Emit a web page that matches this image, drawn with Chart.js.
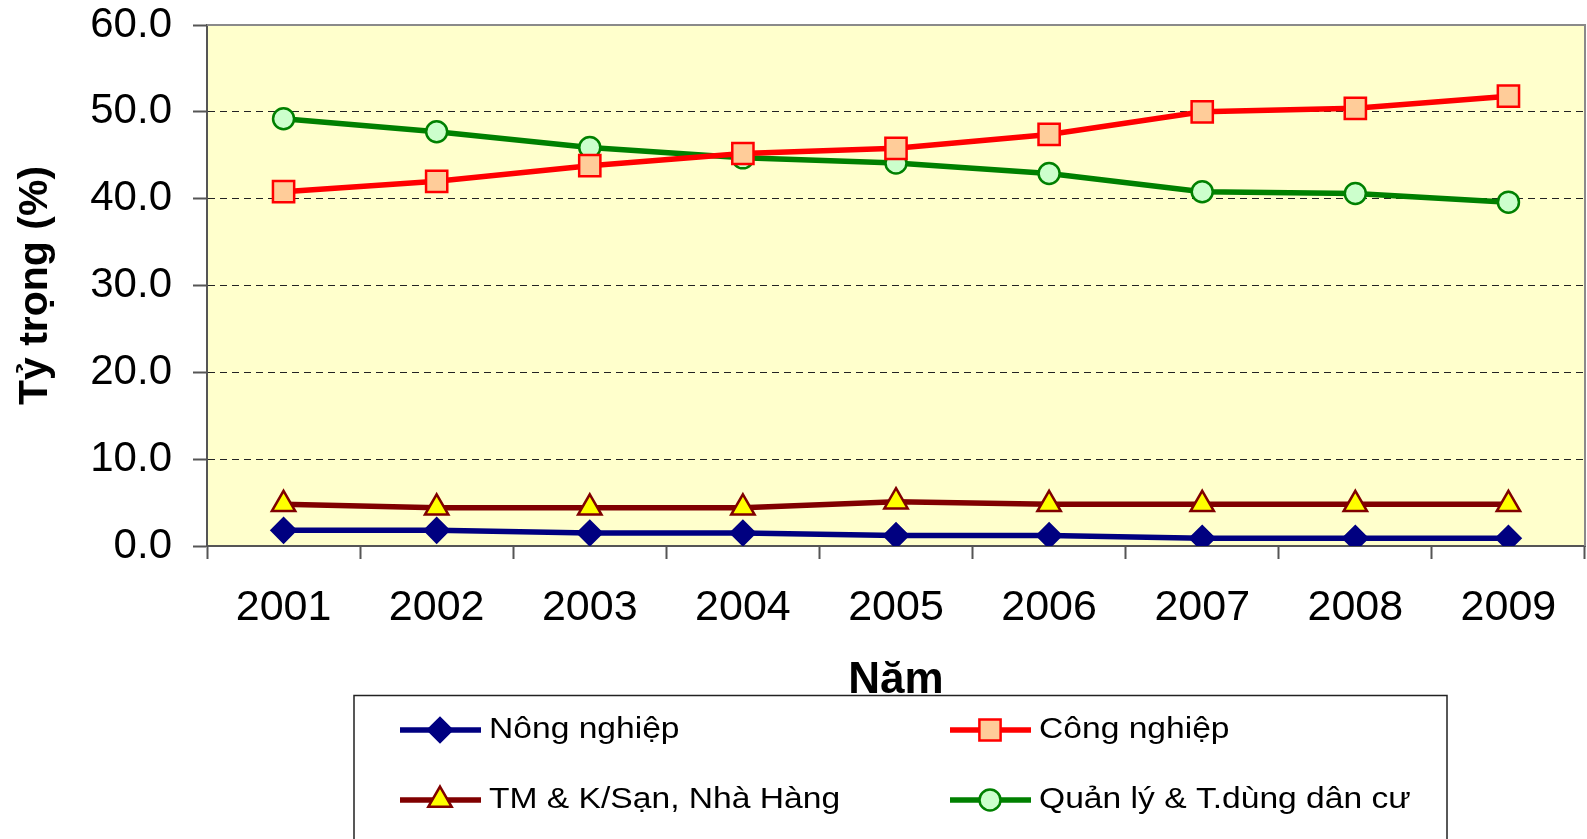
<!DOCTYPE html>
<html>
<head>
<meta charset="utf-8">
<script src="https://cdn.jsdelivr.net/npm/chart.js@4.4.1/dist/chart.umd.min.js"></script>
<style>
  html, body { margin: 0; padding: 0; background: #fff; }
</style>
</head>
<body>
<canvas id="chart" width="1587" height="839"></canvas>
<script>
// Data
const years = ['2001', '2002', '2003', '2004', '2005', '2006', '2007', '2008', '2009'];
const nongNghiep = [1.8, 1.8, 1.5, 1.5, 1.2, 1.2, 0.9, 0.9, 0.9];
const congNghiep = [40.8, 42.0, 43.8, 45.2, 45.8, 47.4, 50.0, 50.4, 51.8];
const thuongMai = [4.8, 4.4, 4.4, 4.4, 5.1, 4.8, 4.8, 4.8, 4.8];
const quanLy = [49.2, 47.7, 45.9, 44.7, 44.1, 42.9, 40.8, 40.6, 39.6];
const seriesNames = ['Nông nghiệp', 'Công nghiệp', 'TM & K/Sạn, Nhà Hàng', 'Quản lý & T.dùng dân cư'];
const yMin = 0, yMax = 60, yStep = 10;
const xTitle = 'Năm';
const yTitle = 'Tỷ trọng (%)';

Chart.defaults.font.family = '"Liberation Sans", Arial, sans-serif';
Chart.defaults.color = '#000';

// plot area background + top/right frame
const plotFrame = {
    id: 'plotFrame',
    beforeDraw(chart) {
        const { ctx, chartArea: a } = chart;
        ctx.save();
        ctx.fillStyle = '#FFFFCC';
        ctx.fillRect(a.left, a.top, a.right - a.left, a.bottom - a.top);
        ctx.restore();
    },
    beforeDatasetsDraw(chart) {
        const { ctx, chartArea: a } = chart;
        ctx.save();
        ctx.strokeStyle = '#8a8a8a';
        ctx.lineWidth = 2;
        ctx.beginPath();
        ctx.moveTo(a.left, a.top);
        ctx.lineTo(a.right, a.top);
        ctx.lineTo(a.right, a.bottom);
        ctx.stroke();
        ctx.restore();
    }
};

// legend box drawn under the chart, line + marker like the original
const legendBox = {
    id: 'legendBox',
    afterDraw(chart) {
        const ctx = chart.ctx;
        const cols = [400, 950];
        const rows = [730, 800];
        ctx.save();
        ctx.strokeStyle = '#222';
        ctx.lineWidth = 1.5;
        ctx.strokeRect(354, 695.5, 1093, 200);
        chart.data.datasets.forEach((ds, i) => {
            const x = cols[i % 2];
            const y = rows[Math.floor(i / 2)];
            ctx.strokeStyle = ds.borderColor;
            ctx.lineWidth = ds.borderWidth;
            ctx.beginPath();
            ctx.moveTo(x, y);
            ctx.lineTo(x + 81, y);
            ctx.stroke();
            ctx.fillStyle = ds.pointBackgroundColor;
            ctx.strokeStyle = ds.pointBorderColor;
            ctx.lineWidth = ds.pointBorderWidth;
            Chart.helpers.drawPoint(ctx, {
                pointStyle: ds.pointStyle,
                radius: ds.pointRadius,
                rotation: 0,
                borderWidth: ds.pointBorderWidth
            }, x + 40, y);
            ctx.fillStyle = '#000';
            ctx.font = '30px "Liberation Sans", Arial, sans-serif';
            ctx.textBaseline = 'middle';
            ctx.save();
            ctx.translate(x + 89, y);
            ctx.scale(1.12, 1);
            ctx.fillText(ds.label, 0, 0);
            ctx.restore();
        });
        ctx.restore();
    }
};

function lineSeries(label, data, color, style, radius, fill, edge) {
    return {
        label: label,
        data: data,
        borderColor: color,
        borderWidth: 5.5,
        pointStyle: style,
        pointRadius: radius,
        pointHoverRadius: radius,
        pointBackgroundColor: fill,
        pointBorderColor: edge,
        pointBorderWidth: 2.5,
        tension: 0,
        fill: false
    };
}

new Chart(document.getElementById('chart'), {
    type: 'line',
    data: {
        labels: years,
        datasets: [
            lineSeries(seriesNames[0], nongNghiep, '#000080', 'rectRot', 12, '#000080', '#000080'),
            lineSeries(seriesNames[1], congNghiep, '#FF0000', 'rect', 15, '#FFCC99', '#FF0000'),
            lineSeries(seriesNames[2], thuongMai, '#800000', 'triangle', 13.5, '#FFFF00', '#800000'),
            lineSeries(seriesNames[3], quanLy, '#008000', 'circle', 10.5, '#CCFFCC', '#008000')
        ]
    },
    options: {
        responsive: false,
        animation: false,
        devicePixelRatio: 1,
        events: [],
        layout: { autoPadding: false, padding: { top: 25, right: 2, bottom: 139, left: 0 } },
        plugins: {
            legend: { display: false },
            tooltip: { enabled: false },
            title: { display: false }
        },
        scales: {
            x: {
                offset: true,
                grid: {
                    display: true,
                    drawOnChartArea: false,
                    offset: true,
                    tickLength: 13,
                    tickColor: '#555',
                    tickWidth: 2
                },
                border: { display: true, color: '#555', width: 2 },
                ticks: {
                    font: { size: 43 },
                    color: '#000',
                    padding: 23,
                    maxRotation: 0,
                    autoSkip: false
                },
                title: {
                    display: true,
                    text: xTitle,
                    font: { size: 44, weight: 'bold', lineHeight: 0.8 },
                    color: '#000',
                    padding: { top: 0, bottom: 2 }
                },
                afterFit(scale) {
                    scale.height = 154;
                    scale.paddingLeft = 0;
                    scale.paddingRight = 0;
                }
            },
            y: {
                min: yMin,
                max: yMax,
                ticks: {
                    stepSize: yStep,
                    font: { size: 42 },
                    color: '#000',
                    padding: 21,
                    callback: (v) => Number(v).toFixed(1)
                },
                grid: {
                    color: (c) => (c.tick && (c.tick.value === yMin || c.tick.value === yMax)) ? 'rgba(0,0,0,0)' : '#222',
                    lineWidth: 1,
                    tickBorderDash: [],
                    tickLength: 14,
                    tickColor: '#555',
                    tickWidth: 2
                },
                border: { display: true, color: '#555', width: 2, dash: [7, 5] },
                title: {
                    display: true,
                    text: yTitle,
                    font: { size: 41, weight: 'bold' },
                    color: '#000',
                    padding: { top: 11, bottom: 0 }
                },
                afterFit(scale) {
                    scale.width = 207;
                    scale.paddingTop = 0;
                    scale.paddingBottom = 0;
                }
            }
        }
    },
    plugins: [plotFrame, legendBox]
});
</script>
</body>
</html>
